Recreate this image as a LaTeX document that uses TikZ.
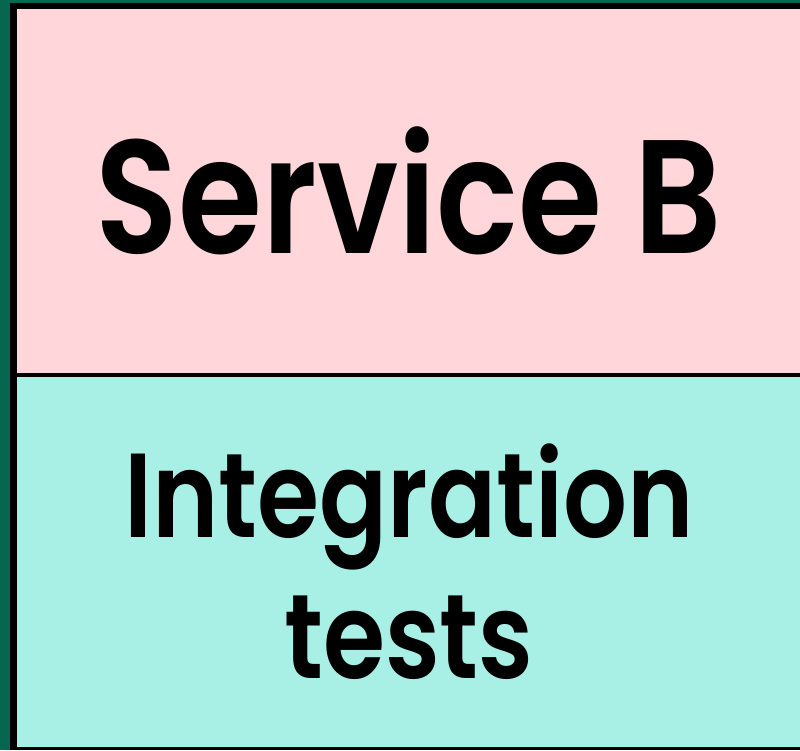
\documentclass[tikz,border=0pt]{standalone}
\usepackage{fontspec}
\setmainfont{Poppins}[BoldFont={Poppins SemiBold},FakeStretch=0.84]
\definecolor{edgegreen}{HTML}{07664F}
\definecolor{svcpink}{HTML}{FFD7DB}
\definecolor{testteal}{HTML}{A8F0E6}
\tikzset{
  layer/.style={rectangle,draw=none,inner sep=0pt,anchor=north west,
    minimum width=7.84cm,align=center,font=\bfseries},
}
\begin{document}
\begin{tikzpicture}[x=0.01cm,y=-0.01cm]
  \useasboundingbox (0,0) rectangle (800,750);
  \fill [edgegreen] (0,0) rectangle (800,750);
  \fill [black] (10,3) rectangle (800,750);
  \node [layer,fill=svcpink,minimum height=3.64cm,
    font=\bfseries\fontsize{46}{50}\selectfont] (svcb) at (16,8) {Service B};
  \node [layer,fill=testteal,minimum height=3.70cm,
    font=\bfseries\fontsize{34}{40}\selectfont] (itests) at (16,376)
    {Integration\\tests};
\end{tikzpicture}
\end{document}
